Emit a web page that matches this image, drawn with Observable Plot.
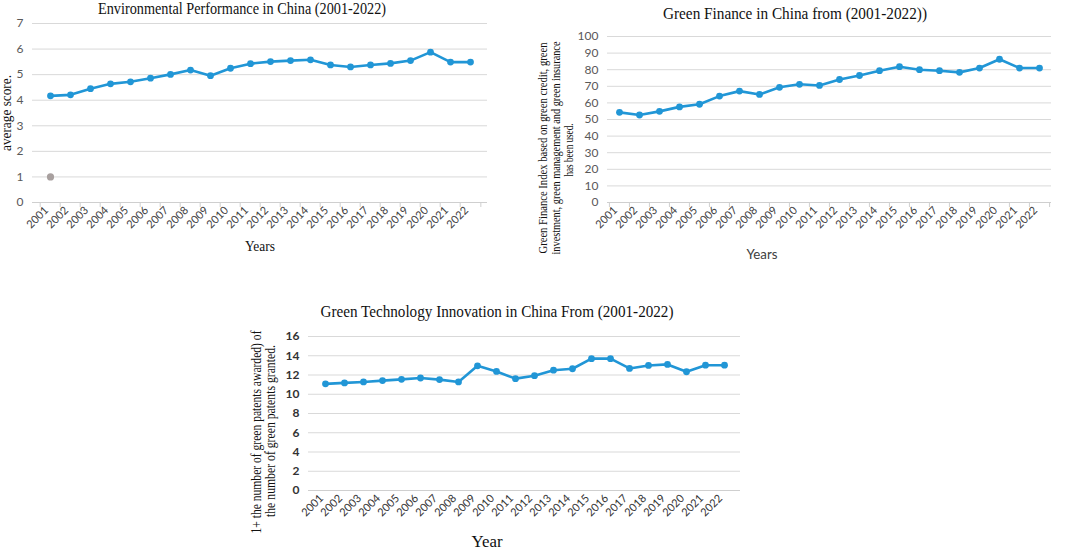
<!DOCTYPE html>
<html>
<head>
<meta charset="utf-8">
<script src="https://cdn.jsdelivr.net/npm/d3@7"></script>
<script src="https://cdn.jsdelivr.net/npm/@observablehq/plot@0.6"></script>
<style>
  html, body { margin: 0; padding: 0; background: #fff; }
  #page { position: relative; width: 1065px; height: 550px; overflow: hidden; background: #fff; }
  .chart { position: absolute; }
  #overlay { position: absolute; left: 0; top: 0; pointer-events: none; }
</style>
</head>
<body>
<div id="page">
  <div id="c1" class="chart" style="left:0px; top:0px;"></div>
  <div id="c2" class="chart" style="left:530px; top:0px;"></div>
  <div id="c3" class="chart" style="left:240px; top:295px;"></div>
  <svg id="overlay" width="1065" height="550"></svg>
</div>
<script>
// ---------- data ----------
const years = ["2001","2002","2003","2004","2005","2006","2007","2008","2009","2010","2011",
               "2012","2013","2014","2015","2016","2017","2018","2019","2020","2021","2022"];
const envScore = [4.17, 4.21, 4.45, 4.64, 4.72, 4.86, 5.01, 5.18, 4.96, 5.25, 5.43,
                  5.51, 5.55, 5.58, 5.38, 5.30, 5.38, 5.44, 5.55, 5.88, 5.49, 5.49];
const strayYears = ["2001"];
const strayValues = [1];
const financeIndex = [54.3, 52.7, 54.9, 57.6, 59.2, 64.1, 67.1, 65.1, 69.4, 71.2, 70.5,
                      74.1, 76.5, 79.4, 81.8, 80.0, 79.4, 78.4, 81.0, 86.3, 81.0, 81.0];
const greenTech = [11.08, 11.18, 11.28, 11.42, 11.55, 11.69, 11.52, 11.28, 12.95, 12.37, 11.62,
                   11.93, 12.50, 12.65, 13.70, 13.70, 12.68, 12.99, 13.10, 12.34, 13.02, 13.02];
const envTicks = [0, 1, 2, 3, 4, 5, 6, 7];
const financeTicks = [0, 10, 20, 30, 40, 50, 60, 70, 80, 90, 100];
const techTicks = [0, 2, 4, 6, 8, 10, 12, 14, 16];

const titles = [
  "Environmental  Performance in China (2001-2022)",
  "Green Finance  in  China  from  (2001-2022))",
  "Green Technology  Innovation  in China From (2001-2022)"
];

const BLUE = "#2196d6";

function lineChart({values, ticks, width, height, mt, mr, mb, ml, tickColor, xTickColor, yWeight, boundaryTicks, extraDots}) {
  const rows = years.map((y, i) => ({year: y, value: values[i]}));
  const bw = (width - ml - mr) / years.length;
  const marks = [
    Plot.gridY(ticks, {stroke: "#d9d9d9", strokeOpacity: 1, strokeWidth: 1}),
    Plot.ruleY([0], {stroke: "#cfcfcf", strokeWidth: 1})
  ];
  if (boundaryTicks) {
    marks.push(
      Plot.ruleX(years, {x: d => d, y1: 0, y2: 0, dx: -bw / 2, insetBottom: -5, stroke: "#cfcfcf"}),
      Plot.ruleX(years.slice(-1), {x: d => d, y1: 0, y2: 0, dx: bw / 2, insetBottom: -5, stroke: "#cfcfcf"})
    );
  }
  marks.push(
    Plot.axisY({ticks, tickSize: 0, tickPadding: 9, tickFormat: d => String(d), fill: tickColor, fontSize: 12, fontWeight: yWeight, label: null}),
    Plot.axisX({tickSize: 0, tickPadding: 6, dx: -4, tickRotate: -45, fill: xTickColor, fontSize: 11, label: null})
  );
  if (extraDots) {
    marks.push(Plot.dot(extraDots, {x: "year", y: "value", r: 3.6, fill: "#a8a09f", stroke: "none"}));
  }
  marks.push(
    Plot.line(rows, {x: "year", y: "value", stroke: BLUE, strokeWidth: 2.6}),
    Plot.dot(rows, {x: "year", y: "value", r: 3.4, fill: BLUE, stroke: "none"})
  );
  return Plot.plot({
    width, height,
    marginTop: mt, marginRight: mr, marginBottom: mb, marginLeft: ml,
    x: {type: "point", domain: years, padding: 0.5, label: null},
    y: {domain: [0, ticks[ticks.length - 1]], label: null},
    style: {fontFamily: "Lato, 'Open Sans', sans-serif", background: "white", overflow: "visible"},
    marks
  });
}

document.getElementById("c1").append(lineChart({
  values: envScore, ticks: envTicks, width: 500, height: 260,
  mt: 23, mr: 13, mb: 58, ml: 32, tickColor: "#595959", xTickColor: "#404040", yWeight: "normal",
  boundaryTicks: true,
  extraDots: strayYears.map((y, i) => ({year: y, value: strayValues[i]}))
}));
document.getElementById("c2").append(lineChart({
  values: financeIndex, ticks: financeTicks, width: 535, height: 270,
  mt: 36, mr: 14, mb: 68, ml: 77, tickColor: "#595959", xTickColor: "#404040", yWeight: "normal",
  boundaryTicks: true
}));
document.getElementById("c3").append(lineChart({
  values: greenTech, ticks: techTicks, width: 540, height: 255,
  mt: 41, mr: 40, mb: 60, ml: 68, tickColor: "#333333", xTickColor: "#333333", yWeight: "bold",
  boundaryTicks: false
}));

// ---------- titles and axis labels ----------
const ov = d3.select("#overlay");
function label(txt, x, y, opts = {}) {
  const t = ov.append("text")
    .attr("x", 0).attr("y", 0)
    .attr("text-anchor", "middle")
    .attr("dominant-baseline", opts.baseline || "middle")
    .attr("transform", `translate(${x},${y}) rotate(${opts.rotate || 0})`)
    .attr("font-family", opts.family || "'Liberation Serif', 'DejaVu Serif', serif")
    .attr("font-size", opts.size || 14)
    .attr("fill", opts.fill || "#111")
    .text(txt);
  if (opts.len) t.attr("textLength", opts.len).attr("lengthAdjust", "spacingAndGlyphs");
  return t;
}
label(titles[0], 242, 14, {size: 16.5, len: 288, baseline: "alphabetic"});
label(titles[1], 795, 19, {size: 16, len: 264, baseline: "alphabetic"});
label(titles[2], 497, 317, {size: 16, len: 353, baseline: "alphabetic"});

label("average score.", 8, 113, {rotate: -90, size: 14, len: 76});
label("Years", 260, 248, {size: 15, len: 30});

label("Green Finance Index based on green credit, green", 544, 148, {rotate: -90, size: 11.5, len: 211});
label("investment, green management and green insurance", 557, 148, {rotate: -90, size: 11.5, len: 213});
label("has been used.", 570, 150, {rotate: -90, size: 11.5, len: 53});
label("Years", 762, 255, {size: 14, family: "Lato, 'Open Sans', sans-serif", fill: "#404040", len: 31});

label("1+ the number of green  patents awarded) of", 258, 432, {rotate: -90, size: 14, len: 203});
label("the number of green  patents granted.", 272, 431, {rotate: -90, size: 14, len: 172});
label("Year", 487, 543, {size: 17, len: 31});
</script>
</body>
</html>
